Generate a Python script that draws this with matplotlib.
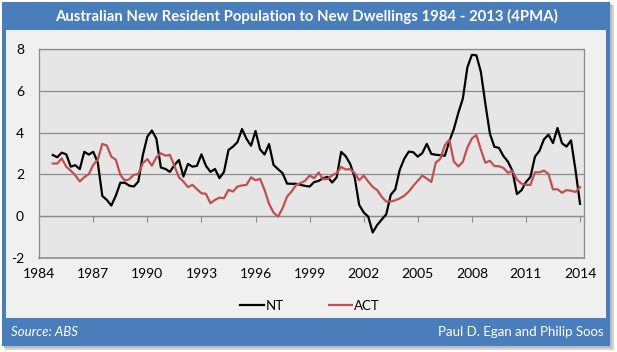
import numpy as np
import matplotlib
matplotlib.use("Agg")
from matplotlib import pyplot as plt
from matplotlib.patches import Rectangle

# quarterly 4-quarter moving average, first point 1984 Q4 ... last point 2014
nt = [
    2.93,
    2.82, 3.04, 2.96, 2.37,   # 1985
    2.44, 2.25, 3.08, 2.95,   # 1986
    3.08, 2.57, 0.97, 0.78,   # 1987
    0.51, 0.98, 1.60, 1.60,   # 1988
    1.46, 1.42, 1.66, 2.93,   # 1989
    3.81, 4.10, 3.71, 2.33,   # 1990
    2.26, 2.12, 2.45, 2.69,   # 1991
    1.90, 2.50, 2.37, 2.41,   # 1992
    2.96, 2.41, 2.12, 2.26,   # 1993
    1.82, 2.12, 3.17, 3.33,   # 1994
    3.55, 4.17, 3.70, 3.37,   # 1995
    4.08, 3.20, 2.95, 3.45,   # 1996
    2.45, 2.25, 2.06, 1.56,   # 1997
    1.55, 1.55, 1.50, 1.45,   # 1998
    1.42, 1.63, 1.69, 1.82,   # 1999
    1.88, 1.61, 1.86, 3.08,   # 2000
    2.87, 2.50, 1.86, 0.54,   # 2001
    0.18, -0.02, -0.78, -0.42,  # 2002
    -0.16, 0.09, 1.02, 1.28,  # 2003
    2.22, 2.75, 3.09, 3.06,   # 2004
    2.85, 3.02, 3.46, 2.98,   # 2005
    2.94, 2.92, 2.89, 3.59,   # 2006
    4.17, 4.95, 5.63, 7.12,   # 2007
    7.72, 7.70, 6.90, 5.37,   # 2008
    3.95, 3.32, 3.27, 2.88,   # 2009
    2.61, 2.17, 1.06, 1.24,   # 2010
    1.63, 1.88, 2.85, 3.13,   # 2011
    3.68, 3.90, 3.50, 4.22,   # 2012
    3.49, 3.33, 3.63, 2.20,   # 2013
    0.59,
]
act = [
    2.52,
    2.52, 2.77, 2.37, 2.18,   # 1985
    1.96, 1.66, 1.87, 2.01,   # 1986
    2.46, 2.70, 3.46, 3.38,   # 1987
    2.85, 2.70, 1.98, 1.70,   # 1988
    1.77, 1.98, 2.02, 2.54,   # 1989
    2.73, 2.42, 2.82, 3.01,   # 1990
    2.90, 2.93, 2.41, 1.86,   # 1991
    1.66, 1.39, 1.50, 1.29,   # 1992
    1.10, 1.07, 0.62, 0.78,   # 1993
    0.89, 0.86, 1.26, 1.18,   # 1994
    1.42, 1.47, 1.50, 1.86,   # 1995
    1.72, 1.79, 1.26, 0.59,   # 1996
    0.17, -0.02, 0.38, 0.94,  # 1997
    1.18, 1.50, 1.58, 1.70,   # 1998
    1.94, 1.82, 2.09, 1.77,   # 1999
    1.78, 1.96, 2.06, 2.36,   # 2000
    2.23, 2.26, 2.06, 1.72,   # 2001
    1.94, 1.66, 1.40, 1.25,   # 2002
    0.92, 0.70, 0.70, 0.76,   # 2003
    0.85, 0.98, 1.18, 1.45,   # 2004
    1.70, 1.94, 1.80, 1.64,   # 2005
    2.57, 2.74, 3.40, 3.66,   # 2006
    2.62, 2.38, 2.60, 3.28,   # 2007
    3.72, 3.88, 3.18, 2.56,   # 2008
    2.65, 2.40, 2.39, 2.31,   # 2009
    2.08, 2.17, 1.75, 1.56,   # 2010
    1.50, 1.50, 2.10, 2.10,   # 2011
    2.18, 2.02, 1.28, 1.29,   # 2012
    1.12, 1.25, 1.22, 1.16,   # 2013
    1.39,
]
first_quarter = 1984.75
year_ticks = list(range(1984, 2015, 3))
y_ticks = [-2, 0, 2, 4, 6, 8]

title = "Australian New Resident Population to New Dwellings 1984 - 2013 (4PMA)"
source = "Source: ABS"
authors = "Paul D. Egan and Philip Soos"

blue = "#4a7ebb"
red = "#c0504d"
grid = "#8c8c8c"
plt.rcParams["font.family"] = ["Lato", "DejaVu Sans"]
plt.rcParams["axes.unicode_minus"] = False

W, H = 617, 352
fig = plt.figure(figsize=(W / 100, H / 100), dpi=100)
fig.patch.set_facecolor("white")


def box(x0, y0, x1, y1, color):
    # pixel coords, y measured from the top
    fig.patches.append(Rectangle((x0 / W, 1 - y1 / H), (x1 - x0) / W, (y1 - y0) / H,
                                 transform=fig.transFigure, facecolor=color,
                                 edgecolor="none", zorder=-10))


# shadow, frame, chart area
box(5, 5, 614, 350, "#d4d4d4")
box(4, 4, 612, 348, "#bcbcbc")
box(2, 2, 610, 346, blue)
box(6, 30, 606, 318, "#f0f0f0")

fig.text(306 / W, 1 - 16.5 / H, title, color="white", fontsize=10.7, fontweight="bold",
         ha="center", va="center")
fig.text(11 / W, 1 - 332 / H, source, color="white", fontsize=9.5, style="italic",
         ha="left", va="center")
fig.text(604 / W, 1 - 332 / H, authors, color="white", fontsize=9.5,
         ha="right", va="center")

ax = fig.add_axes([39.2 / W, 1 - 258 / H, (584 - 39.2) / W, (258 - 49) / H])
ax.set_facecolor("#e6e6e6")

x = first_quarter + 0.25 * np.arange(len(nt))
ax.plot(x, nt, color="black", lw=1.6, label="NT", zorder=3)
ax.plot(x, act, color=red, lw=1.6, label="ACT", zorder=3)

ax.set_xlim(1984, 2014.22)
ax.set_ylim(-2, 8)
ax.set_yticks(y_ticks)
ax.grid(axis="y", color=grid, lw=0.9)
ax.set_axisbelow(True)

for s in ax.spines.values():
    s.set_color(grid)
    s.set_linewidth(0.9)

# category axis crosses at zero, labels sit at the bottom
ax.spines["bottom"].set_position(("data", 0))
ax.set_xticks(year_ticks)
ax.tick_params(axis="x", direction="out", length=4, color=grid, labelbottom=False)
ax.tick_params(axis="y", length=0, pad=11, labelsize=10, colors="black")
sec = ax.secondary_xaxis(0.0)
sec.set_xticks(year_ticks)
sec.spines["bottom"].set_visible(False)
sec.tick_params(length=0, pad=7, labelsize=10)
ax.plot([1984, 2014.22], [-2, -2], color=grid, lw=1.2, clip_on=False, zorder=4)

fig.legend(loc="center", bbox_to_anchor=(310 / W, 1 - 306 / H), ncol=2, frameon=False,
           fontsize=9.5, handlelength=1.8, handletextpad=0.15, columnspacing=3.4)

fig.savefig("out.png", dpi=100)
